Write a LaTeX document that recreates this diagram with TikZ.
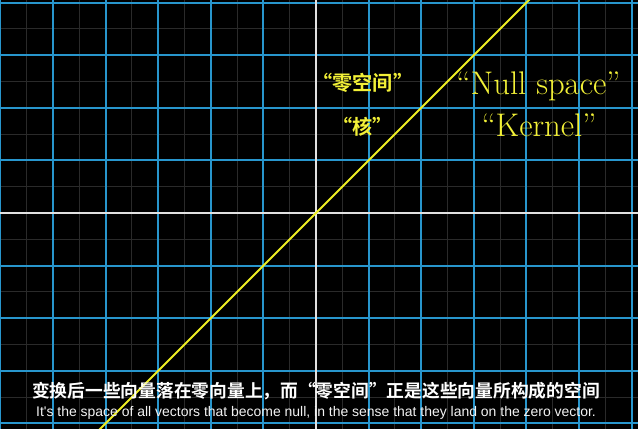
\documentclass[tikz,border=0pt]{standalone}
\usepackage{fontspec}
\newfontfamily\cjkbold{Noto Sans CJK SC Bold}
\newfontfamily\capfont{Liberation Sans}
\definecolor{gridblue}{RGB}{40,150,205}
\definecolor{minorgray}{RGB}{42,42,42}
\definecolor{axiswhite}{RGB}{225,225,225}
\definecolor{nullyellow}{RGB}{238,238,35}
\definecolor{textyellow}{RGB}{242,240,55}
\begin{document}
\begin{tikzpicture}[x=1cm,y=1cm,
  minorline/.style={minorgray,line width=0.5pt},
  majorline/.style={gridblue,line width=1.1pt},
  axisline/.style={axiswhite,line width=1.1pt},
  kernelline/.style={nullyellow,line width=1.1pt},
  every node/.style={inner sep=0pt}]
  \useasboundingbox (-6.008,-4.106) rectangle (6.122,4.049);
  \fill[black] (-6.008,-4.106) rectangle (6.122,4.049);
  \draw[minorline,step=0.5] (-6.5,-4.5) grid (6.5,4.5);
  \draw[majorline,step=1] (-6.5,-4.5) grid (6.5,4.5);
  \draw[axisline] (-6.5,0)--(6.5,0);
  \draw[axisline] (0,-4.5)--(0,4.5);
  \draw[kernelline] (-4.3,-4.3)--(4.3,4.3);
  \node[textyellow,font=\cjkbold\fontsize{10.9}{13}\selectfont] (nullzh) at (0.89,2.47) {“零空间”};
  \node[textyellow,font=\cjkbold\fontsize{10.9}{13}\selectfont] (kernelzh) at (0.89,1.635) {“核”};
  \node[textyellow,font=\fontsize{17.7}{21}\selectfont] (nullen) at (4.23,2.40) {“Null space”};
  \node[textyellow,font=\fontsize{17.7}{21}\selectfont] (kernelen) at (4.24,1.67) {“Kernel”};
  \node[white,font=\cjkbold\fontsize{9.6}{11}\selectfont] (capzh) at (0,-3.384)
    {变换后一些向量落在零向量上，而“零空间”正是这些向量所构成的空间};
  \node[white!90!gray,font=\capfont\fontsize{7.55}{9}\selectfont] (capen) at (0,-3.80)
    {It's the space of all vectors that become null, in the sense that they land on the zero vector.};
\end{tikzpicture}
\end{document}
